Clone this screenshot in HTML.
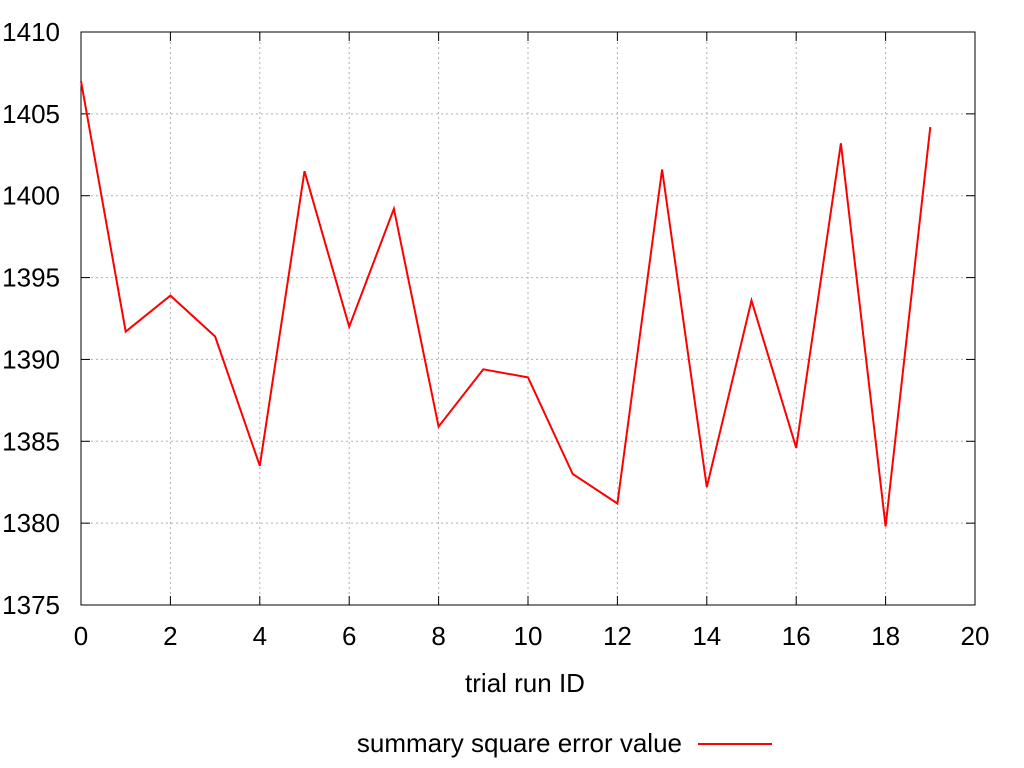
<!DOCTYPE html>
<html><head><meta charset="utf-8"><style>
html,body{margin:0;padding:0;background:#fff;}
svg{display:block;font-family:"Liberation Sans",sans-serif;}
</style></head><body>
<svg id="chart" width="1024" height="768" viewBox="0 0 1024 768" xmlns="http://www.w3.org/2000/svg"></svg>
<script>
const xIds = [0,1,2,3,4,5,6,7,8,9,10,11,12,13,14,15,16,17,18,19];
const errorValues = [1407.0,1391.7,1393.9,1391.4,1383.5,1401.5,1392.0,1399.2,1385.9,1389.4,1388.9,1383.0,1381.2,1401.6,1382.2,1393.6,1384.6,1403.2,1379.8,1404.2];
const xTicks = [0,2,4,6,8,10,12,14,16,18,20];
const yTicks = [1375,1380,1385,1390,1395,1400,1405,1410];

const L=81,R=975,T=32,B=605;
const xMin=0,xMax=20,yMin=1375,yMax=1410;
const sx=v=>L+(v-xMin)/(xMax-xMin)*(R-L);
const sy=v=>B-(v-yMin)/(yMax-yMin)*(B-T);
const svg=document.getElementById('chart');
const NS='http://www.w3.org/2000/svg';
function mk(tag,attrs,text){const e=document.createElementNS(NS,tag);for(const k in attrs)e.setAttribute(k,attrs[k]);if(text!==undefined)e.textContent=text;svg.appendChild(e);return e;}

yTicks.forEach(t=>{
  const y=sy(t);
  if(t!==yMin&&t!==yMax){
    const g=mk('line',{x1:L,x2:R,y1:y,y2:y,stroke:'#b0b0b0','stroke-width':1,'stroke-dasharray':'2,3'});
    
    
  }
  const tk=mk('line',{x1:L,x2:L+9,y1:y,y2:y,stroke:'#000'});
  
  
  const tk2=mk('line',{x1:R-9,x2:R,y1:y,y2:y,stroke:'#000'});
  
  
  const lb=mk('text',{x:L-21,y:y+9,'text-anchor':'end','font-size':26},String(t));
  
  
});
xTicks.forEach(t=>{
  const x=sx(t);
  if(t!==xMin&&t!==xMax){
    const g=mk('line',{x1:x,x2:x,y1:T,y2:B,stroke:'#b0b0b0','stroke-width':1,'stroke-dasharray':'2,3'});
    
    
  }
  const tk=mk('line',{x1:x,x2:x,y1:B,y2:B-9,stroke:'#000'});
  
  
  const tk2=mk('line',{x1:x,x2:x,y1:T,y2:T+9,stroke:'#000'});
  
  
  const lb=mk('text',{x:x,y:B+40,'text-anchor':'middle','font-size':26},String(t));
  
  
});
const frame=mk('rect',{x:L,y:T,width:R-L,height:B-T,fill:'none',stroke:'#000','stroke-width':1});



const pts=xIds.map((x,i)=>sx(x).toFixed(1)+','+sy(errorValues[i]).toFixed(1)).join(' ');
const line=mk('polyline',{points:pts,fill:'none',stroke:'#ff0000','stroke-width':2});



const xt=mk('text',{x:(L+R)/2+(-3),y:692,'text-anchor':'middle','font-size':26},'trial run ID');


const lg=mk('text',{x:682,y:752,'text-anchor':'end','font-size':26},'summary square error value');


const ls=mk('line',{x1:698,x2:772,y1:744,y2:744,stroke:'#ff0000','stroke-width':2});


</script>
</body></html>
